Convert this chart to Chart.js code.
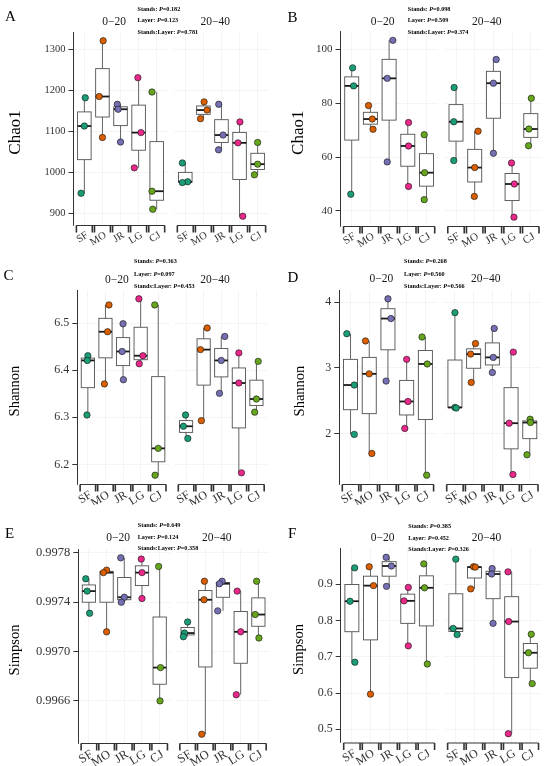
<!DOCTYPE html>
<html><head><meta charset="utf-8">
<script src="https://cdn.jsdelivr.net/npm/chart.js@4.4.1/dist/chart.umd.min.js"></script>
<style>
html,body{margin:0;padding:0;background:#fff}
#wrap{position:relative;width:550px;height:766px;overflow:hidden;background:#fff}
canvas{position:absolute}
</style></head><body><div id="wrap"></div>
<script>
// ---------------- DATA ----------------
const categories = ['SF','MO','JR','LG','CJ'];
const layers = ['0\u221220','20\u221240'];

// A: Chao1
const chaoA_0_20  = [[1182,1113,949],[1321,1185,1085],[1166,1154,1074],[1231,1097,1011],[1196,954,910]];
const chaoA_20_40 = [[1023,977,975],[1172,1152,1131],[1166,1091,1055],[1123,1072,893],[1073,1020,994]];
const ticksA = [900,1000,1100,1200,1300];
const tickLabelsA = ['900','1000','1100','1200','1300'];
const statsA = ['0.182','0.123','0.781'];

// B: Chao1
const chaoB_0_20  = [[93.1,86.4,46.2],[79.1,74.1,70.3],[103.3,89.2,58.2],[72.8,64.1,49.1],[68.3,54.2,44.2]];
const chaoB_20_40 = [[85.8,73.1,58.7],[69.6,56.1,45.4],[96.2,87.4,61.4],[57.8,50.0,37.7],[81.8,70.4,64.2]];
const ticksB = [40,60,80,100];
const tickLabelsB = ['40','60','80','100'];
const statsB = ['0.098','0.509','0.374'];

// C: Shannon
const shanC_0_20  = [[6.431,6.421,6.305],[6.539,6.482,6.371],[6.499,6.440,6.380],[6.552,6.431,6.414],[6.539,6.234,6.177]];
const shanC_20_40 = [[6.305,6.281,6.255],[6.490,6.444,6.293],[6.472,6.421,6.351],[6.437,6.373,6.182],[6.419,6.339,6.311]];
const ticksC = [6.2,6.3,6.4,6.5];
const tickLabelsC = ['6.2','6.3','6.4','6.5'];
const statsC = ['0.363','0.097','0.453'];

// D: Shannon
const shanD_0_20  = [[3.52,2.74,1.99],[3.41,2.91,1.70],[4.05,3.75,2.80],[3.13,2.49,2.08],[3.47,3.06,1.37]];
const shanD_20_40 = [[3.84,2.40,2.39],[3.37,3.21,2.78],[3.60,3.16,2.93],[3.24,2.16,1.38],[2.22,2.17,1.68]];
const ticksD = [2,3,4];
const tickLabelsD = ['2','3','4'];
const statsD = ['0.268','0.560','0.566'];

// E: Simpson
const simpE_0_20  = [[0.99759,0.99749,0.99731],[0.99766,0.99764,0.99716],[0.99776,0.99744,0.99740],[0.99775,0.99764,0.99743],[0.99769,0.99687,0.99660]];
const simpE_20_40 = [[0.99724,0.99715,0.99712],[0.99757,0.99742,0.99633],[0.99757,0.99755,0.99733],[0.99749,0.99716,0.99665],[0.99757,0.99730,0.99711]];
const ticksE = [0.9966,0.9970,0.9974,0.9978];
const tickLabelsE = ['0.9966','0.9970','0.9974','0.9978'];
const statsE = ['0.649','0.124','0.358'];

// F: Simpson
const simpF_0_20  = [[0.945,0.853,0.685],[0.948,0.896,0.597],[0.974,0.950,0.894],[0.891,0.854,0.730],[0.956,0.890,0.680]];
const simpF_20_40 = [[0.969,0.778,0.761],[0.948,0.947,0.887],[0.943,0.928,0.792],[0.934,0.797,0.488],[0.762,0.711,0.626]];
const ticksF = [0.5,0.6,0.7,0.8,0.9];
const tickLabelsF = ['0.5','0.6','0.7','0.8','0.9'];
const statsF = ['0.385','0.452','0.326'];

// horizontal jitter of the points, in category widths (as seen in the reference)
const jitA_0_20  = [[0.05,0,-0.18],[0.04,-0.18,0],[-0.18,-0.13,0],[-0.04,0.13,-0.24],[-0.26,-0.26,-0.22]];
const jitA_20_40 = [[-0.16,0.13,-0.16],[0.04,0.2,-0.16],[-0.15,0.09,-0.16],[0.02,-0.09,0.18],[0,0,-0.18]];
const jitB_0_20  = [[0.05,0.1,-0.05],[-0.1,0.1,0.14],[0.2,-0.1,-0.1],[0.04,0.04,0.04],[-0.12,-0.1,-0.12]];
const jitB_20_40 = [[-0.1,-0.12,-0.12],[0.18,0,-0.02],[0.15,0,0],[-0.03,0.12,0.1],[0.03,-0.1,-0.12]];
const jitC_0_20  = [[0,-0.03,-0.05],[0.2,0.12,-0.06],[0,-0.05,0.02],[-0.1,0.13,-0.08],[-0.2,0,-0.18]];
const jitC_20_40 = [[-0.03,-0.15,0.1],[0.2,-0.18,-0.13],[0.2,0,-0.1],[0,0,0.15],[0.1,0,-0.1]];
const jitD_0_20  = [[-0.2,0.2,0.2],[-0.2,0,0.14],[0,0.16,-0.1],[0,0.07,-0.1],[-0.18,0.1,0.07]];
const jitD_20_40 = [[0,0,0.07],[0.1,-0.16,-0.13],[0.1,0.05,0],[0.12,-0.1,0.1],[0.02,0.04,-0.15]];
const jitE_0_20  = [[-0.18,-0.1,0.04],[0,-0.18,0],[-0.2,0,-0.17],[-0.04,0,0],[-0.06,0.05,0.02]];
const jitE_20_40 = [[0,-0.18,-0.24],[-0.05,-0.07,-0.2],[-0.05,-0.2,-0.3],[-0.2,0,-0.25],[-0.1,-0.18,0.03]];
const jitF_0_20  = [[0.15,-0.1,0.16],[-0.07,0.16,0],[-0.16,0.12,-0.14],[0.03,-0.2,0.03],[-0.14,-0.1,0.05]];
const jitF_20_40 = [[0,-0.14,0.07],[-0.05,0.05,-0.2],[-0.05,-0.08,0],[-0.2,-0.16,-0.18],[0.05,-0.1,0.1]];

// ---------------- STYLE / LAYOUT ----------------
const catColors = ['#1B9E77','#D95F02','#7570B3','#E7298A','#66A61E'];
const FONT = "'Liberation Serif','Times New Roman',serif";
const GAP = 0.38;           // gap between facets, in category widths
const G = 5.2 + GAP;         // offset of the second facet

const panels = [
 {letter:'A', title:'Chao1', data:[chaoA_0_20,chaoA_20_40], jit:[jitA_0_20,jitA_20_40], ticks:ticksA, tl:tickLabelsA, stats:statsA,
  pos:{left:0,top:0,w:275,h:255,l:73.5,r:268.5,t:32,b:225}, tick:10.5, tf:17, titleX:15.5, lp:[5,17], sp:[137.5,[9.3,20.8,32.5]], stripY:21.7},
 {letter:'B', title:'Chao1', data:[chaoB_0_20,chaoB_20_40], jit:[jitB_0_20,jitB_20_40], ticks:ticksB, tl:tickLabelsB, stats:statsB,
  pos:{left:275,top:0,w:275,h:255,l:65.5,r:267,t:31.5,b:226}, tick:11, tf:17, titleX:24, lp:[12.5,18], sp:[132.7,[9.3,20.8,32.5]], stripY:21.7},
 {letter:'C', title:'Shannon', data:[shanC_0_20,shanC_20_40], jit:[jitC_0_20,jitC_20_40], ticks:ticksC, tl:tickLabelsC, stats:statsC,
  pos:{left:0,top:255,w:275,h:250,l:77.3,r:267,t:35,b:229}, tick:12, tf:14.5, titleX:15.3, lp:[3.5,21], sp:[134,[6.7,19.2,31.6]], stripY:25},
 {letter:'D', title:'Shannon', data:[shanD_0_20,shanD_20_40], jit:[jitD_0_20,jitD_20_40], ticks:ticksD, tl:tickLabelsD, stats:statsD,
  pos:{left:275,top:255,w:275,h:250,l:64.3,r:266,t:35,b:229}, tick:12, tf:14.5, titleX:25.5, lp:[12.5,23], sp:[129,[6.7,19,31]], stripY:24},
 {letter:'E', title:'Simpson', data:[simpE_0_20,simpE_20_40], jit:[jitE_0_20,jitE_20_40], ticks:ticksE, tl:tickLabelsE, stats:statsE,
  pos:{left:0,top:505,w:275,h:261,l:78.3,r:269,t:44,b:238}, tick:12.5, tf:14.5, titleX:15, lp:[5,29], sp:[137.7,[20.7,32.3,43.3]], stripY:33.3},
 {letter:'F', title:'Simpson', data:[simpF_0_20,simpF_20_40], jit:[jitF_0_20,jitF_20_40], ticks:ticksF, tl:tickLabelsF, stats:statsF,
  pos:{left:275,top:505,w:275,h:261,l:65.7,r:266.5,t:43.5,b:237.5}, tick:12, tf:14.5, titleX:24.3, lp:[13,29], sp:[133.3,[21.7,33.3,44.3]], stripY:33.3}
];

function quant(arr,p){
  const s=[...arr].sort((a,b)=>a-b);
  const h=(s.length-1)*p, lo=Math.floor(h), hi=Math.min(lo+1,s.length-1);
  return s[lo]+(h-lo)*(s[hi]-s[lo]);
}

function makePlugin(P, groups){
  return {
    id:'boxes'+P.letter,
    beforeDatasetsDraw(chart){
      const {ctx, chartArea:ca, scales:{x,y}} = chart;
      ctx.save();
      const g0=x.getPixelForValue(4.6), g1=x.getPixelForValue(G-0.6);
      ctx.fillStyle='#fff';
      ctx.fillRect(g0+0.5, ca.top-1, g1-g0-1, ca.bottom-ca.top+1);
      groups.forEach(g=>{
        const v=g.values;
        const q1=quant(v,.25), md=quant(v,.5), q3=quant(v,.75), mn=Math.min(...v), mx=Math.max(...v);
        const cx=x.getPixelForValue(g.x), xl=x.getPixelForValue(g.x-0.375), xr=x.getPixelForValue(g.x+0.375);
        const yt=y.getPixelForValue(q3), yb=y.getPixelForValue(q1), ym=y.getPixelForValue(md);
        ctx.strokeStyle='#666'; ctx.lineWidth=1;
        ctx.beginPath();
        ctx.moveTo(cx,y.getPixelForValue(mx)); ctx.lineTo(cx,yt);
        ctx.moveTo(cx,yb); ctx.lineTo(cx,y.getPixelForValue(mn));
        ctx.stroke();
        ctx.fillStyle='#fff'; ctx.fillRect(xl,yt,xr-xl,yb-yt);
        ctx.strokeStyle='#505050'; ctx.lineWidth=0.9; ctx.strokeRect(xl,yt,xr-xl,yb-yt);
        ctx.strokeStyle='#1a1a1a'; ctx.lineWidth=1.8;
        ctx.beginPath(); ctx.moveTo(xl,ym); ctx.lineTo(xr,ym); ctx.stroke();
      });
      ctx.restore();
    },
    afterDraw(chart){
      const {ctx, chartArea:ca, scales:{x,y}} = chart;
      ctx.save();
      ctx.strokeStyle='#333';
      [0,G].forEach((off,li)=>{
        const y0=ca.bottom+0.5;
        ctx.lineWidth=1.2;
        ctx.beginPath(); ctx.moveTo(x.getPixelForValue(off-0.45),y0); ctx.lineTo(x.getPixelForValue(off+4.45),y0); ctx.stroke();
        ctx.lineWidth=1.6;
        ctx.beginPath();
        for(let i=0;i<categories.length;i++){
          [off+i-0.44, off+i+0.44].forEach(v=>{const px=x.getPixelForValue(v); ctx.moveTo(px,y0); ctx.lineTo(px,y0+7);});
        }
        ctx.stroke();
        ctx.fillStyle='#1a1a1a'; ctx.font='11.5px '+FONT; ctx.textAlign='center'; ctx.textBaseline='middle';
        ctx.fillText(layers[li], x.getPixelForValue(off+1.65), P.stripY);
      });
      ctx.save();
      ctx.translate(P.titleX, (ca.top+ca.bottom)/2+4);
      ctx.rotate(-Math.PI/2);
      ctx.fillStyle='#000'; ctx.font=P.tf+'px '+FONT; ctx.textAlign='center'; ctx.textBaseline='middle';
      ctx.fillText(P.title,0,0);
      ctx.restore();
      ctx.fillStyle='#000'; ctx.font='15px '+FONT; ctx.textAlign='left'; ctx.textBaseline='middle';
      ctx.fillText(P.letter, P.lp[0], P.lp[1]);
      const heads=['Stands: ','Layer: ','Stands:Layer: '];
      heads.forEach((h,k)=>{
        let xx=P.sp[0]; const yy=P.sp[1][k];
        ctx.font='bold 6.2px '+FONT; ctx.fillText(h,xx,yy); xx+=ctx.measureText(h).width;
        ctx.font='italic bold 6.2px '+FONT; ctx.fillText('P',xx,yy); xx+=ctx.measureText('P').width;
        ctx.font='bold 6.2px '+FONT; ctx.fillText('='+P.stats[k],xx,yy);
      });
      ctx.restore();
    }
  };
}

const wrap=document.getElementById('wrap');
panels.forEach(P=>{
  const c=document.createElement('canvas');
  c.width=P.pos.w; c.height=P.pos.h;
  c.style.left=P.pos.left+'px'; c.style.top=P.pos.top+'px';
  c.style.width=P.pos.w+'px'; c.style.height=P.pos.h+'px';
  wrap.appendChild(c);

  const all=[].concat(...P.data.map(l=>[].concat(...l)));
  const dmin=Math.min(...all), dmax=Math.max(...all), ex=(dmax-dmin)*0.05;

  const groups=[], pts=[], cols=[];
  P.data.forEach((layer,li)=>{
    layer.forEach((vals,i)=>{
      groups.push({x:li*G+i, values:vals});
      vals.forEach((v,k)=>{ pts.push({x:li*G+i+P.jit[li][i][k], y:v}); cols.push(catColors[i]); });
    });
  });
  const xTickVals=[]; const xTickLab=[];
  layers.forEach((l,li)=>categories.forEach((cname,i)=>{xTickVals.push(li*G+i); xTickLab.push(cname);}));

  new Chart(c,{
    type:'scatter',
    data:{datasets:[{data:pts, backgroundColor:cols, borderColor:'#111', borderWidth:0.6, pointRadius:3.2, showLine:false}]},
    options:{
      responsive:false, animation:false, events:[],
      layout:{padding:{left:0, top:P.pos.t, right:P.pos.w-P.pos.r, bottom:0}},
      plugins:{legend:{display:false}, tooltip:{enabled:false}},
      scales:{
        x:{type:'linear', min:-0.6, max:G+4.6, bounds:'data',
           afterBuildTicks:s=>{s.ticks=xTickVals.map(v=>({value:v}));},
           afterFit:s=>{s.height=P.pos.h-P.pos.b;},
           ticks:{autoSkip:false, minRotation:32, maxRotation:32, padding:4, labelOffset:3, color:'#333',
                  font:{family:FONT, size:P.tick}, callback:(v,i)=>xTickLab[i]},
           grid:{color:'#ededed', lineWidth:0.6, drawTicks:false},
           border:{display:false}},
        y:{type:'linear', min:dmin-ex, max:dmax+ex, bounds:'data',
           afterBuildTicks:s=>{s.ticks=P.ticks.map(v=>({value:v}));},
           afterFit:s=>{s.width=P.pos.l;},
           ticks:{padding:3, color:'#333', font:{family:FONT, size:P.tick}, callback:(v,i)=>P.tl[i]},
           grid:{color:'#ededed', lineWidth:0.6, tickLength:5, tickColor:'#333', tickWidth:1},
           border:{display:true, color:'#333', width:1}}
      }
    },
    plugins:[makePlugin(P,groups)]
  });
});
</script></body></html>
